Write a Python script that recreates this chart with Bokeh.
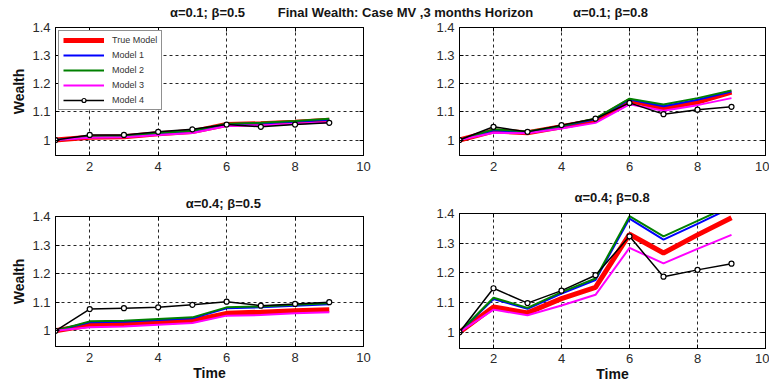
from bokeh.plotting import figure
from bokeh.models import Range1d, FixedTicker, CustomJSTickFormatter, Label, LinearAxis
from bokeh.layouts import column, row
from bokeh.embed import file_html
from bokeh.resources import INLINE

# ---------------- data ----------------
time = [1, 2, 3, 4, 5, 6, 7, 8, 9]
series_names = ["True Model", "Model 1", "Model 2", "Model 3", "Model 4"]

# alpha=0.1; beta=0.5
a_true = [1.000, 1.010, 1.012, 1.022, 1.030, 1.055, 1.058, 1.063, 1.070]
a_m1 = [1.000, 1.011, 1.014, 1.024, 1.032, 1.056, 1.059, 1.065, 1.072]
a_m2 = [1.000, 1.012, 1.015, 1.025, 1.033, 1.058, 1.061, 1.068, 1.076]
a_m3 = [1.000, 1.008, 1.010, 1.018, 1.025, 1.050, 1.052, 1.058, 1.063]
a_m4 = [1.000, 1.018, 1.018, 1.029, 1.038, 1.055, 1.047, 1.055, 1.061]

# alpha=0.1; beta=0.8
b_true = [1.000, 1.032, 1.026, 1.047, 1.070, 1.140, 1.114, 1.135, 1.170]
b_m1 = [1.000, 1.035, 1.028, 1.049, 1.074, 1.144, 1.120, 1.143, 1.172]
b_m2 = [1.000, 1.038, 1.030, 1.050, 1.077, 1.147, 1.126, 1.149, 1.176]
b_m3 = [1.000, 1.026, 1.024, 1.041, 1.061, 1.127, 1.104, 1.124, 1.149]
b_m4 = [1.000, 1.047, 1.029, 1.053, 1.076, 1.132, 1.092, 1.108, 1.118]

# alpha=0.4; beta=0.5
c_true = [1.000, 1.020, 1.023, 1.029, 1.035, 1.061, 1.065, 1.070, 1.074]
c_m1 = [1.000, 1.030, 1.032, 1.038, 1.044, 1.079, 1.082, 1.088, 1.093]
c_m2 = [1.000, 1.033, 1.035, 1.041, 1.047, 1.082, 1.085, 1.091, 1.096]
c_m3 = [1.000, 1.012, 1.015, 1.021, 1.027, 1.053, 1.055, 1.061, 1.065]
c_m4 = [1.000, 1.076, 1.079, 1.082, 1.091, 1.102, 1.088, 1.094, 1.100]

# alpha=0.4; beta=0.8
d_true = [1.000, 1.085, 1.065, 1.113, 1.151, 1.330, 1.267, 1.328, 1.386]
d_m1 = [1.000, 1.112, 1.079, 1.130, 1.176, 1.383, 1.312, 1.365, 1.420]
d_m2 = [1.000, 1.116, 1.082, 1.135, 1.181, 1.391, 1.323, 1.375, 1.428]
d_m3 = [1.000, 1.076, 1.057, 1.090, 1.126, 1.284, 1.232, 1.281, 1.328]
d_m4 = [1.000, 1.148, 1.098, 1.140, 1.192, 1.323, 1.187, 1.210, 1.231]

x_ticks = [2, 4, 6, 8, 10]
y_ticks = [1.0, 1.1, 1.2, 1.3, 1.4]

main_title = "Final Wealth: Case MV ,3 months Horizon"
panel_titles = ["\u03b1=0.1; \u03b2=0.5", "\u03b1=0.1; \u03b2=0.8",
                "\u03b1=0.4; \u03b2=0.5", "\u03b1=0.4; \u03b2=0.8"]

colors = ["#ff0000", "#0000ff", "#008000", "#ff00ff", "#000000"]
widths = [5, 2, 2, 2, 1.5]

FONT = "Liberation Sans"


def text_strip(w, h, items):
    """A thin strip (no axes) holding title texts; 1 data unit = 1 pixel."""
    s = figure(width=w, height=h, x_range=Range1d(0, w), y_range=Range1d(0, h), title=None,
               output_backend="svg", toolbar_location=None, tools="", min_border=0,
               x_axis_location=None, y_axis_location=None, outline_line_color=None)
    s.grid.visible = False
    for txt, xc, ym in items:
        s.add_layout(Label(x=xc, y=ym, text=txt, text_align="center", text_baseline="middle",
                           text_font=FONT, text_font_size="13px", text_font_style="bold",
                           text_color="#151515"))
    return s


def style_axis(ax):
    ax.axis_line_color = "black"
    ax.major_tick_in = 4
    ax.major_tick_out = 0
    ax.minor_tick_line_color = None
    ax.major_tick_line_color = "black"
    ax.major_label_text_font = FONT
    ax.major_label_text_font_size = "13px"
    ax.major_label_text_color = "#2a2a2a"


def make_panel(w, h, bl, br, bt, bb, data, ylabel=None, xlabel=None, legend=False, xstandoff=6):
    p = figure(width=w, height=h, x_range=Range1d(1, 10), y_range=Range1d(0.945, 1.4),
               title=None, output_backend="svg", toolbar_location=None, tools="",
               min_border_left=bl, min_border_right=br, min_border_top=bt, min_border_bottom=bb,
               background_fill_color="white", border_fill_color="white")
    p.outline_line_color = "black"
    p.outline_line_width = 1
    xa = p.below[0]
    ya = p.left[0]
    xa.ticker = FixedTicker(ticks=x_ticks)
    ya.ticker = FixedTicker(ticks=y_ticks)
    ya.formatter = CustomJSTickFormatter(code="return String(Number(tick.toFixed(1)));")
    style_axis(xa)
    style_axis(ya)
    xa.major_label_standoff = xstandoff
    ya.major_label_standoff = 5
    # MATLAB-style box: tick marks (no labels) on the top and right sides too
    top = LinearAxis(ticker=FixedTicker(ticks=x_ticks),
                     formatter=CustomJSTickFormatter(code="return '';"))
    right = LinearAxis(ticker=FixedTicker(ticks=y_ticks),
                       formatter=CustomJSTickFormatter(code="return '';"))
    for ax in (top, right):
        style_axis(ax)
        ax.major_label_text_font_size = "0px"
        ax.major_label_standoff = 0
    p.add_layout(top, "above")
    p.add_layout(right, "right")
    p.xgrid.ticker = FixedTicker(ticks=[2, 4, 6, 8])
    p.ygrid.ticker = FixedTicker(ticks=[1.0, 1.1, 1.2, 1.3])
    p.grid.grid_line_color = "black"
    p.grid.grid_line_dash = "3 3"
    p.grid.grid_line_width = 1
    p.grid.grid_line_alpha = 0.85
    if ylabel:
        ya.axis_label = ylabel
        ya.axis_label_text_font = FONT
        ya.axis_label_text_font_size = "14px"
        ya.axis_label_text_font_style = "bold"
        ya.axis_label_text_color = "#111111"
        ya.axis_label_standoff = 2
    if xlabel:
        xa.axis_label = xlabel
        xa.axis_label_text_font = FONT
        xa.axis_label_text_font_size = "14px"
        xa.axis_label_text_font_style = "bold"
        xa.axis_label_text_color = "#111111"
        xa.axis_label_standoff = 0
    for i, (ys, name) in enumerate(zip(data, series_names)):
        kw = dict(legend_label=name) if legend else {}
        p.line(time, ys, line_color=colors[i], line_width=widths[i], **kw)
        if i == 4:
            p.scatter(time, ys, marker="circle", size=5, fill_color="white",
                      line_color="black", line_width=1.2, **kw)
    if legend:
        lg = p.legend[0]
        lg.location = "top_left"
        lg.margin = 3
        lg.padding = 4
        lg.spacing = 5
        lg.glyph_width = 41
        lg.glyph_height = 10
        lg.label_height = 10
        lg.label_standoff = 8
        lg.label_text_font = FONT
        lg.label_text_font_size = "9px"
        lg.label_text_color = "#333333"
        lg.border_line_color = "#222222"
        lg.border_line_width = 1
        lg.background_fill_alpha = 1
    return p


# header strip: top-row panel titles and the main title
hdr = text_strip(769, 20, [(panel_titles[0], 207, 8), (main_title, 405, 8), (panel_titles[1], 610, 8)])

f1 = make_panel(380, 170, 55, 17, 7, 35, [a_true, a_m1, a_m2, a_m3, a_m4],
                ylabel="Wealth", legend=True)
f2 = make_panel(389, 170, 79, 4, 7, 35, [b_true, b_m1, b_m2, b_m3, b_m4])

# bottom row: each panel has its own title strip
t3 = text_strip(380, 20, [(panel_titles[2], 207, 7.5)])
f3 = make_panel(380, 175, 55, 17, 6, 39, [c_true, c_m1, c_m2, c_m3, c_m4],
                ylabel="Wealth", xlabel="Time")
t4 = text_strip(389, 15, [(panel_titles[3], 194, 7.8)])
f4 = make_panel(389, 180, 79, 4, 8, 37, [d_true, d_m1, d_m2, d_m3, d_m4],
                xlabel="Time", xstandoff=5)

layout = column(hdr, row(f1, f2), row(column(t3, f3), column(t4, f4)))

open("out.html", "w").write(file_html(layout, INLINE))
